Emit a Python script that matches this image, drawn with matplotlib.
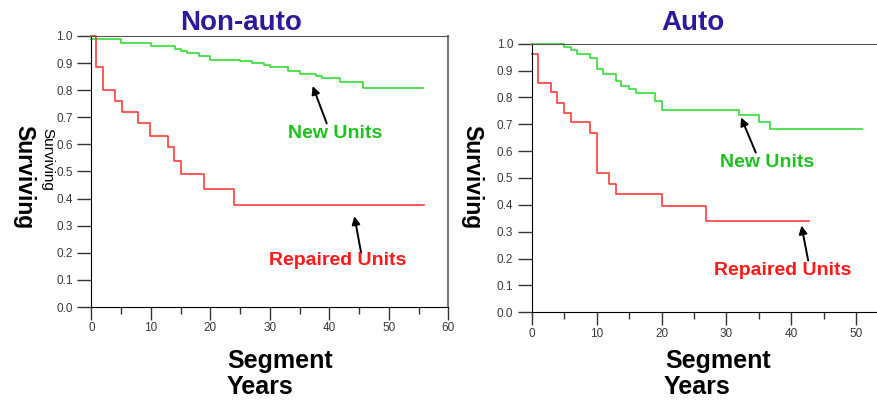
import matplotlib.pyplot as plt
from matplotlib.ticker import MultipleLocator

plt.rcParams['font.family'] = ['Liberation Sans', 'DejaVu Sans']

# Non-auto survival curves (step, post)
na_new_t = [0, 5, 10, 14, 15, 16, 18, 20, 25, 27, 29, 30, 33, 35, 37.7, 38.7, 41.8, 45.7, 55.7]
na_new_s = [0.99, 0.973, 0.962, 0.952, 0.943, 0.936, 0.925, 0.913, 0.907, 0.901, 0.894,
            0.884, 0.871, 0.861, 0.853, 0.845, 0.830, 0.809, 0.809]
na_rep_t = [0, 0.8, 2, 4, 5.1, 7.9, 9.8, 12.8, 13.9, 15, 18.9, 24, 55.8]
na_rep_s = [1.0, 0.885, 0.8, 0.76, 0.72, 0.678, 0.632, 0.59, 0.538, 0.489, 0.437, 0.377, 0.377]

# Auto survival curves
au_new_t = [0, 4.9, 6.0, 7.0, 8.9, 10.0, 11.0, 12.9, 13.8, 15.0, 16.0, 19.0, 20.0, 31.9, 35.0, 36.8, 50.9]
au_new_s = [1.0, 0.987, 0.975, 0.961, 0.948, 0.905, 0.886, 0.861, 0.843, 0.832, 0.815,
            0.786, 0.753, 0.735, 0.707, 0.681, 0.681]
au_rep_t = [0, 0.95, 2.9, 3.9, 5.0, 6.0, 8.9, 10.0, 11.9, 12.9, 20.0, 26.9, 42.8]
au_rep_s = [0.962, 0.855, 0.82, 0.781, 0.743, 0.707, 0.668, 0.519, 0.479, 0.439, 0.396, 0.339, 0.339]

GREEN = '#33dd33'
RED = '#ff3c3c'
TXT_GREEN = '#1ec21e'
TXT_RED = '#ff1a1a'
TITLE = '#2b1b9a'

fig = plt.figure(figsize=(8.77, 4.0), dpi=100)
ax1 = fig.add_axes([0.1043, 0.2325, 0.4071, 0.6775])
ax2 = fig.add_axes([0.6066, 0.21925, 0.3934, 0.6715])


def style(ax, xmax, right_spine):
    ax.set_xlim(0, xmax)
    ax.set_ylim(0, 1.0)
    ax.xaxis.set_major_locator(MultipleLocator(10))
    ax.xaxis.set_minor_locator(MultipleLocator(5))
    ax.yaxis.set_major_locator(MultipleLocator(0.1))
    ax.yaxis.set_major_formatter(plt.FormatStrFormatter('%.1f'))
    ax.tick_params(axis='y', length=10, width=1, color='#333333', pad=3.5,
                   labelsize=8.5, labelcolor='#3a3a3a')
    ax.tick_params(axis='x', which='major', length=9, width=1, color='#333333',
                   pad=2, labelsize=8.5, labelcolor='#3a3a3a')
    ax.tick_params(axis='x', which='minor', length=5, width=1, color='#333333')
    ax.spines['left'].set_color('black')
    ax.spines['bottom'].set_color('black')
    ax.spines['top'].set_color('#555555')
    ax.spines['right'].set_color('#777777')
    ax.spines['right'].set_linewidth(1.5)
    ax.spines['right'].set_visible(right_spine)
    ax.patch.set_alpha(0)


style(ax1, 60, True)
style(ax2, 53.24, False)

ax1.step(na_new_t, na_new_s, where='post', color=GREEN, lw=1.2, clip_on=False)
ax1.step(na_rep_t, na_rep_s, where='post', color=RED, lw=1.2, clip_on=False)
ax2.step(au_new_t, au_new_s, where='post', color=GREEN, lw=1.2, clip_on=False)
ax2.step(au_rep_t, au_rep_s, where='post', color=RED, lw=1.2, clip_on=False)

arrow = dict(arrowstyle='-|>', color='black', lw=1.4, mutation_scale=12)
ax1.annotate('', xy=(37.0, 0.825), xytext=(39.7, 0.668), arrowprops=arrow)
ax1.annotate('', xy=(44.1, 0.345), xytext=(45.4, 0.19), arrowprops=arrow)
ax2.annotate('', xy=(32.1, 0.735), xytext=(34.7, 0.585), arrowprops=arrow)
ax2.annotate('', xy=(41.5, 0.333), xytext=(42.7, 0.183), arrowprops=arrow)

lab = dict(fontsize=14, fontweight='bold', ha='center', va='center')
ax1.text(40.9, 0.642, 'New Units', color=TXT_GREEN, **lab)
ax1.text(41.3, 0.173, 'Repaired Units', color=TXT_RED, **lab)
ax2.text(36.3, 0.556, 'New Units', color=TXT_GREEN, **lab)
ax2.text(38.7, 0.157, 'Repaired Units', color=TXT_RED, **lab)

# titles and axis labels
fig.text(0.2748, 0.9425, 'Non-auto', fontsize=20, fontweight='bold', color=TITLE,
         ha='center', va='center')
fig.text(0.790, 0.9425, 'Auto', fontsize=20, fontweight='bold', color=TITLE,
         ha='center', va='center')

ylab = dict(fontsize=16.5, fontweight='bold', color='black', ha='center', va='center')
fig.text(0.0274, 0.5575, 'Surviving', rotation=270, **ylab)
fig.text(47 / 877, 0.6025, 'Surviving', rotation=270, fontsize=11, color='black',
         ha='center', va='center')
fig.text(0.538, 0.5575, 'Surviving', rotation=270, **ylab)

xlab = dict(fontsize=18, fontweight='bold', color='black', ha='center', va='center')
fig.text(280 / 877, 1 - 361 / 400, 'Segment', **xlab)
fig.text(260 / 877, 1 - 387 / 400, 'Years', **xlab)
fig.text(718 / 877, 1 - 361 / 400, 'Segment', **xlab)
fig.text(697 / 877, 1 - 387 / 400, 'Years', **xlab)

fig.savefig('out.png', dpi=100)
